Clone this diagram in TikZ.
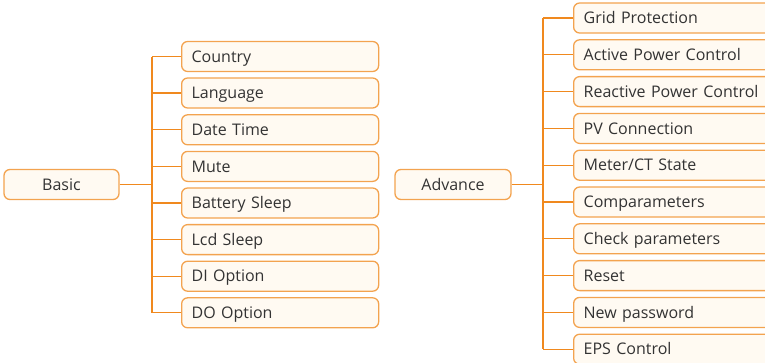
\documentclass[tikz,border=0pt]{standalone}
\usepackage{fontspec}
\setmainfont{Open Sans}
\definecolor{boxline}{HTML}{F3A34F}
\definecolor{boxfill}{HTML}{FFFAF2}
\definecolor{conn}{HTML}{F0891E}
\definecolor{txt}{HTML}{333333}
\begin{document}
\begin{tikzpicture}[x=1pt,y=-1pt,
  box/.style={draw=boxline, fill=boxfill, line width=1.3pt, rounded corners=6pt,
    minimum height=30pt, inner sep=0pt, text height=11.5pt, text depth=0pt,
    font=\fontsize{16}{18}\selectfont, text=txt},
  root/.style={box, minimum width=115pt},
  leafL/.style={box, anchor=west, minimum width=197pt, text width=177pt, align=left},
  leafR/.style={box, anchor=west, minimum width=200pt, text width=180pt, align=left},
  link/.style={draw=conn, line width=1.2pt}]
\useasboundingbox (0,0) rectangle (765,362);
% left tree
\node[root] (basic) at (61.5,184.5) {Basic};
\coordinate (bt) at (152,184.5);
\node[leafL] (l1) at (181,56.5) {Country};
\node[leafL] (l2) at (181,93) {Language};
\node[leafL] (l3) at (181,129.8) {Date Time};
\node[leafL] (l4) at (181,166.4) {Mute};
\node[leafL] (l5) at (181,203) {Battery Sleep};
\node[leafL] (l6) at (181,239.6) {Lcd Sleep};
\node[leafL] (l7) at (181,276.2) {DI Option};
\node[leafL] (l8) at (181,312.8) {DO Option};
\draw[link] (basic.east) -- (bt);
\draw[link] (bt |- l1.west) -- (bt |- l8.west);
\foreach \i in {1,...,8} \draw[link] (bt |- l\i.west) -- (l\i.west);
% right tree
\node[root, minimum width=116pt] (adv) at (453,184.5) {Advance};
\coordinate (at) at (543,184.5);
\node[leafR] (r1) at (573,18) {Grid Protection};
\node[leafR] (r2) at (573,54.8) {Active Power Control};
\node[leafR] (r3) at (573,91.6) {Reactive Power Control};
\node[leafR] (r4) at (573,128.4) {PV Connection};
\node[leafR] (r5) at (573,165.2) {Meter/CT State};
\node[leafR] (r6) at (573,202) {Comparameters};
\node[leafR] (r7) at (573,238.8) {Check parameters};
\node[leafR] (r8) at (573,275.6) {Reset};
\node[leafR] (r9) at (573,312.4) {New password};
\node[leafR] (r10) at (573,349.2) {EPS Control};
\draw[link] (adv.east) -- (at);
\draw[link] (at |- r1.west) -- (at |- r10.west);
\foreach \i in {1,...,10} \draw[link] (at |- r\i.west) -- (r\i.west);
\end{tikzpicture}
\end{document}
